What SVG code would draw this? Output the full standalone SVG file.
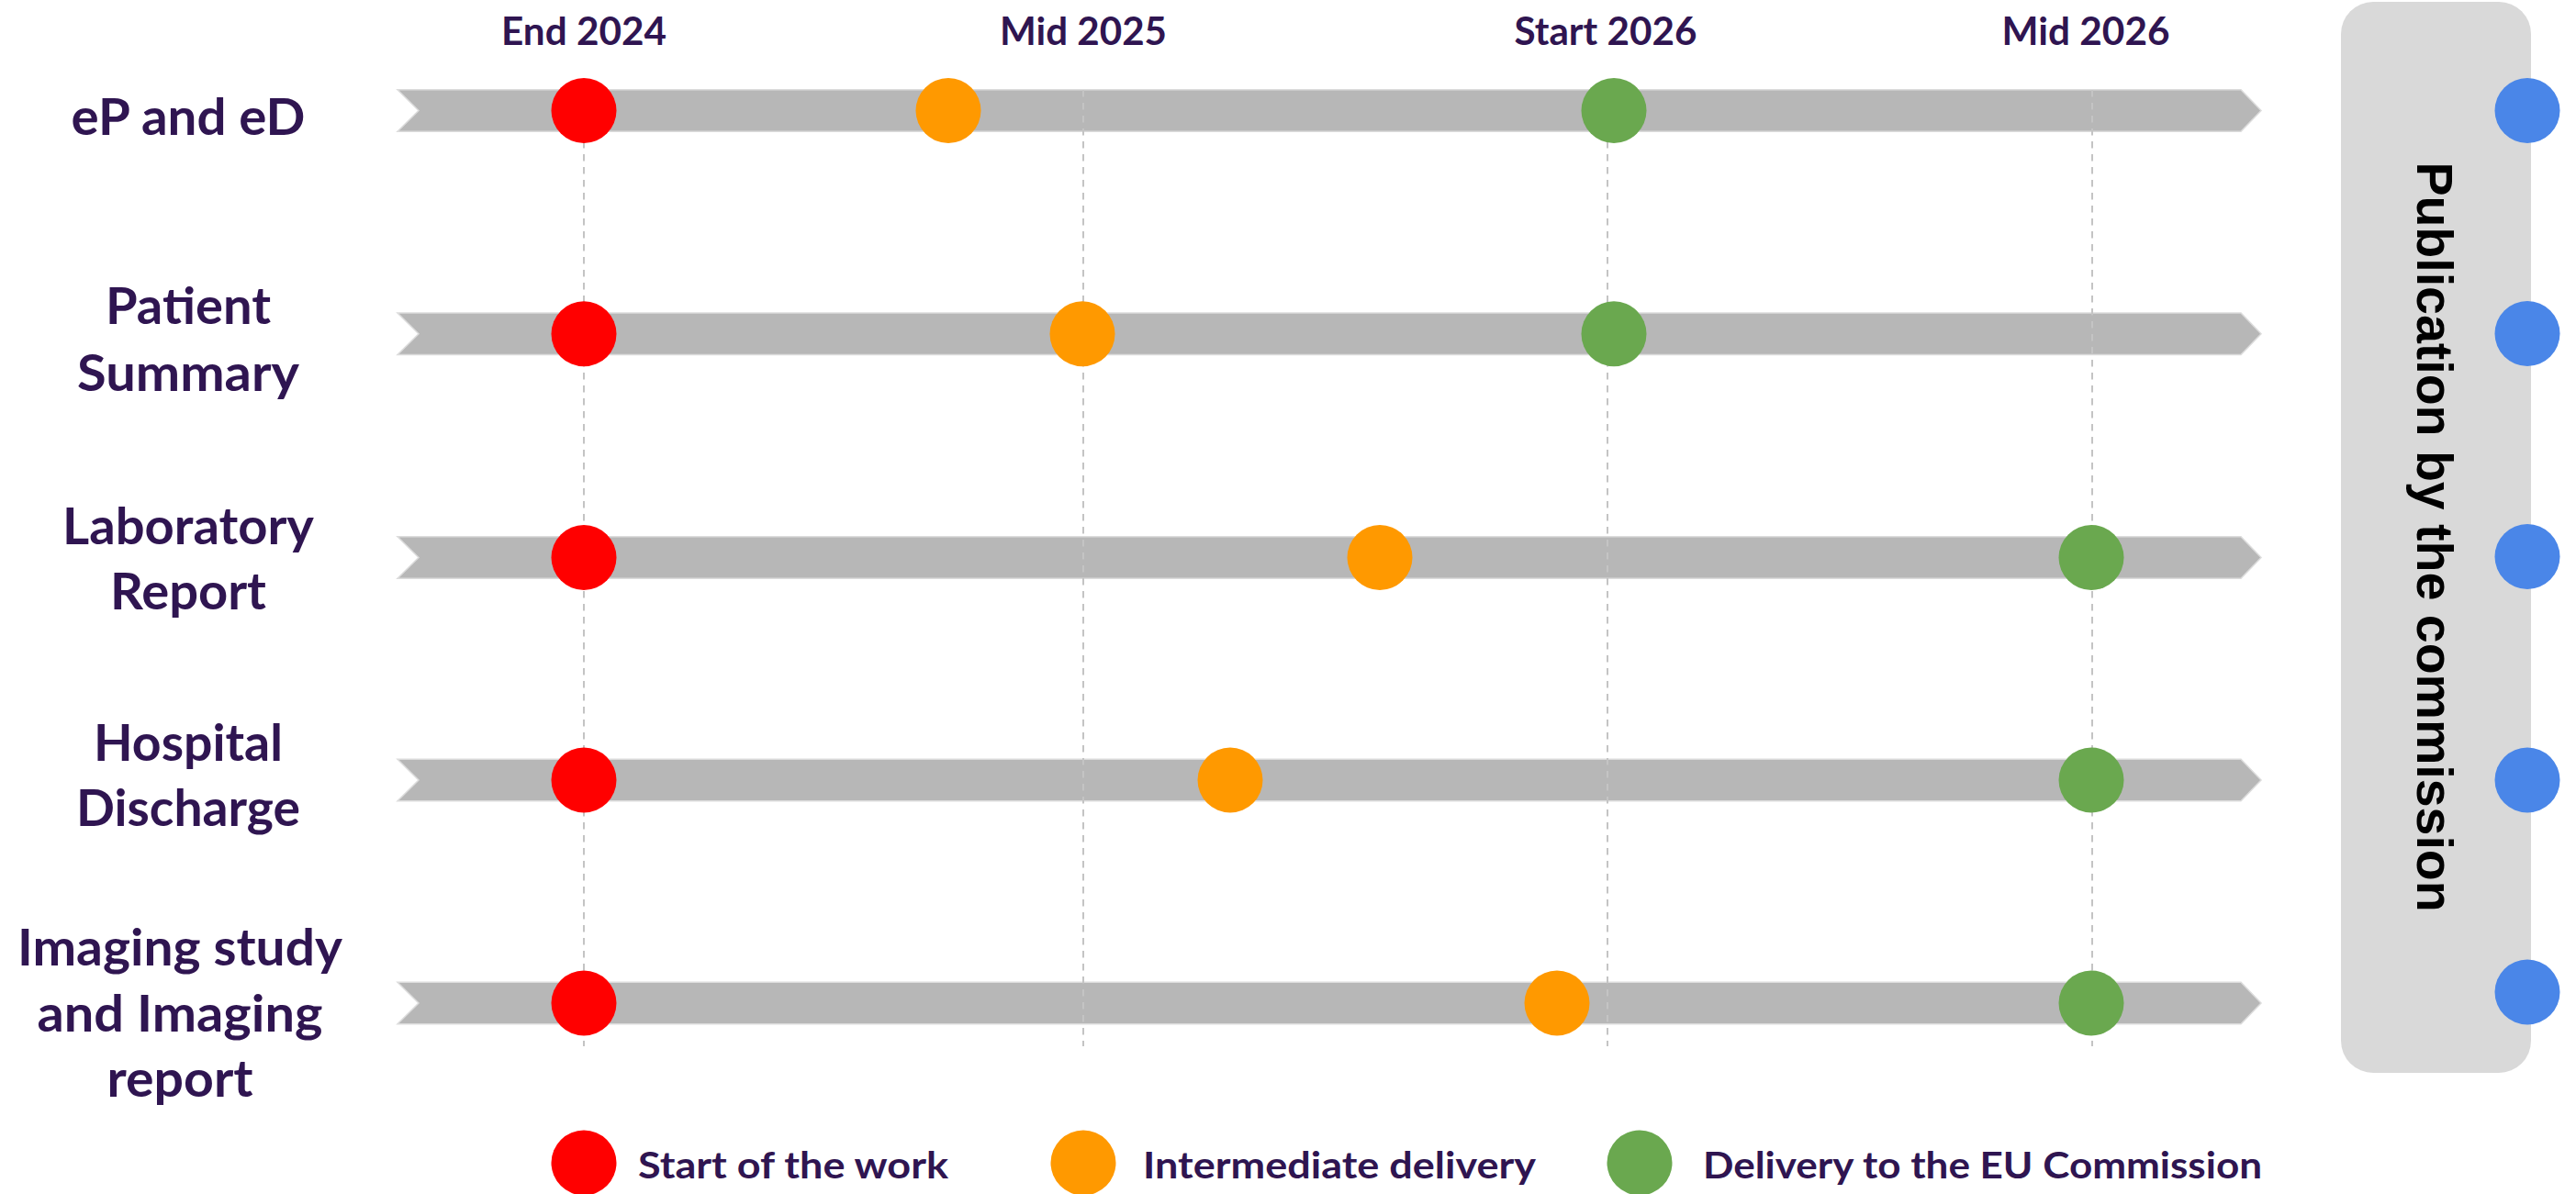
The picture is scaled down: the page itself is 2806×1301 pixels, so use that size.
<svg xmlns="http://www.w3.org/2000/svg" width="2806" height="1301" viewBox="0 0 2806 1301">
  <style>
    .lbl { font-family: Lato, "Open Sans", "Liberation Sans", sans-serif; font-weight: 700; fill: #2F1551; text-anchor: middle; }
    .row { font-size: 56px; }
    .top { font-size: 42px; }
    .leg { font-size: 41px; text-anchor: start; }
    .bar { fill: #B7B7B7; stroke: #DCDCDC; stroke-width: 1.5; }
    .guide { stroke: #C4C4C4; stroke-width: 2; stroke-dasharray: 7.5 6.5; fill: none; }
    .red { fill: #FF0000; }
    .orange { fill: #FF9900; }
    .green { fill: #6AA84F; }
    .blue { fill: #4A86E8; }
  </style>
  <defs>
    <path id="barShape" d="M433,-22.75 L2441,-22.75 L2463,0 L2441,22.75 L433,22.75 L456,0 Z"/>
  </defs>
  <rect width="2806" height="1301" fill="#FFFFFF"/>

  <!-- Column headers -->
  <g id="headers">
    <text class="lbl top" x="636" y="48.5" textLength="180" lengthAdjust="spacingAndGlyphs">End 2024</text>
    <text class="lbl top" x="1180" y="48.5" textLength="182" lengthAdjust="spacingAndGlyphs">Mid 2025</text>
    <text class="lbl top" x="1749" y="48.5" textLength="199" lengthAdjust="spacingAndGlyphs">Start 2026</text>
    <text class="lbl top" x="2272" y="48.5" textLength="183" lengthAdjust="spacingAndGlyphs">Mid 2026</text>
  </g>

  <!-- Publication box -->
  <g id="publication">
    <rect x="2550" y="2" width="207" height="1167" rx="35" ry="35" fill="#D9D9D9"/>
    <text transform="translate(2633,585) rotate(90)" x="0" y="0" font-family="'Liberation Sans', Arial, sans-serif" font-weight="700" font-size="55.5" fill="#000000" text-anchor="middle">Publication by the commission</text>
  </g>

  <!-- Timeline bars -->
  <g id="bars">
    <use href="#barShape" class="bar" transform="translate(0,120.5)"/>
    <use href="#barShape" class="bar" transform="translate(0,363.8)"/>
    <use href="#barShape" class="bar" transform="translate(0,607.5)"/>
    <use href="#barShape" class="bar" transform="translate(0,850)"/>
    <use href="#barShape" class="bar" transform="translate(0,1093)"/>
  </g>

  <!-- Guide lines -->
  <g id="connectors">
    <line class="guide" x1="636" y1="98" x2="636" y2="1140"/>
    <line class="guide" x1="1180" y1="98" x2="1180" y2="1140"/>
    <line class="guide" x1="1751" y1="98" x2="1751" y2="1140"/>
    <line class="guide" x1="2279" y1="98" x2="2279" y2="1140"/>
  </g>

  <!-- Rows -->
  <g id="row-ep-ed">
    <text class="lbl row" x="205" y="146.5" textLength="255" lengthAdjust="spacingAndGlyphs">eP and eD</text>
    <circle class="red" cx="636" cy="120.5" r="35.5"/>
    <circle class="orange" cx="1033" cy="120.5" r="35.5"/>
    <circle class="green" cx="1758" cy="120.5" r="35.5"/>
    <circle class="blue" cx="2753" cy="120.5" r="35.5"/>
  </g>

  <g id="row-patient-summary">
    <text class="lbl row" x="205" y="353" textLength="180" lengthAdjust="spacingAndGlyphs">Patient</text>
    <text class="lbl row" x="205" y="426" textLength="242" lengthAdjust="spacingAndGlyphs">Summary</text>
    <circle class="red" cx="636" cy="363.8" r="35.5"/>
    <circle class="orange" cx="1179" cy="363.8" r="35.5"/>
    <circle class="green" cx="1758" cy="363.8" r="35.5"/>
    <circle class="blue" cx="2753" cy="363.5" r="35.5"/>
  </g>

  <g id="row-laboratory-report">
    <text class="lbl row" x="205" y="593" textLength="274" lengthAdjust="spacingAndGlyphs">Laboratory</text>
    <text class="lbl row" x="205" y="664" textLength="170" lengthAdjust="spacingAndGlyphs">Report</text>
    <circle class="red" cx="636" cy="607.5" r="35.5"/>
    <circle class="orange" cx="1503" cy="607.5" r="35.5"/>
    <circle class="green" cx="2278" cy="607.5" r="35.5"/>
    <circle class="blue" cx="2753" cy="606.5" r="35.5"/>
  </g>

  <g id="row-hospital-discharge">
    <text class="lbl row" x="205" y="829" textLength="206" lengthAdjust="spacingAndGlyphs">Hospital</text>
    <text class="lbl row" x="205" y="900" textLength="244" lengthAdjust="spacingAndGlyphs">Discharge</text>
    <circle class="red" cx="636" cy="850" r="35.5"/>
    <circle class="orange" cx="1340" cy="850" r="35.5"/>
    <circle class="green" cx="2278" cy="850" r="35.5"/>
    <circle class="blue" cx="2753" cy="850" r="35.5"/>
  </g>

  <g id="row-imaging">
    <text class="lbl row" x="196" y="1052" textLength="354" lengthAdjust="spacingAndGlyphs">Imaging study</text>
    <text class="lbl row" x="196" y="1124" textLength="311" lengthAdjust="spacingAndGlyphs">and Imaging</text>
    <text class="lbl row" x="196" y="1195" textLength="159" lengthAdjust="spacingAndGlyphs">report</text>
    <circle class="red" cx="636" cy="1093" r="35.5"/>
    <circle class="orange" cx="1696" cy="1093" r="35.5"/>
    <circle class="green" cx="2278" cy="1093" r="35.5"/>
    <circle class="blue" cx="2753" cy="1081" r="35.5"/>
  </g>

  <!-- Legend -->
  <g id="legend">
    <circle class="red" cx="636" cy="1267" r="35.5"/>
    <text class="lbl leg" x="695" y="1284" textLength="338" lengthAdjust="spacingAndGlyphs">Start of the work</text>
    <circle class="orange" cx="1180" cy="1267" r="35.5"/>
    <text class="lbl leg" x="1245" y="1284" textLength="428" lengthAdjust="spacingAndGlyphs">Intermediate delivery</text>
    <circle class="green" cx="1786" cy="1267" r="35.5"/>
    <text class="lbl leg" x="1855" y="1284" textLength="609" lengthAdjust="spacingAndGlyphs">Delivery to the EU Commission</text>
  </g>
</svg>
